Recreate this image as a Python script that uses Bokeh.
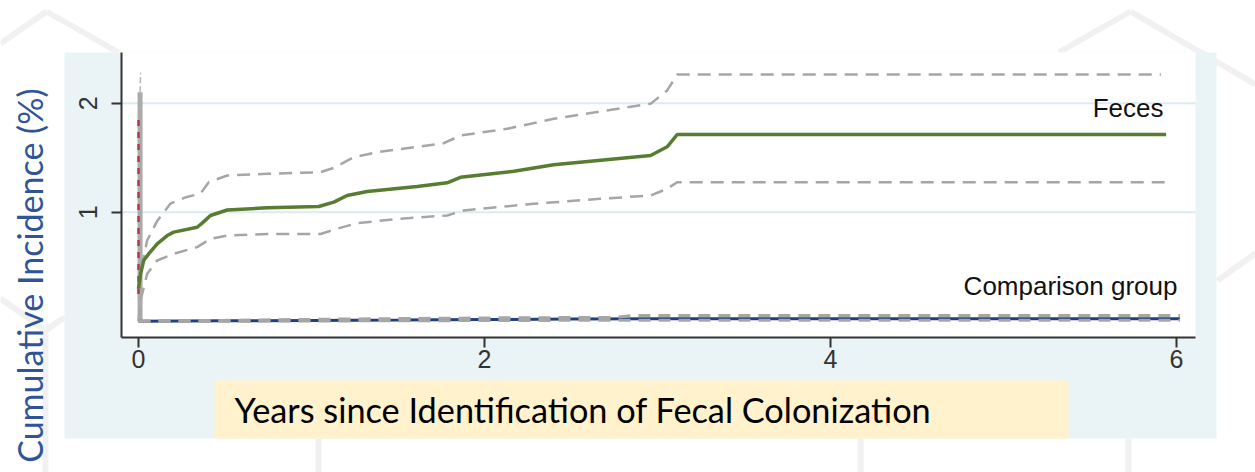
from bokeh.plotting import figure
from bokeh.models import Range1d, FixedTicker, Label
from bokeh.embed import file_html
from bokeh.resources import INLINE
import math

# ---------------- data ----------------
x_ticks = [0, 2, 4, 6]
y_ticks = [1, 2]

feces_t = [0.0, 0.012, 0.03, 0.06, 0.108, 0.166, 0.204, 0.339, 0.368, 0.416, 0.513, 0.744,
           1.042, 1.129, 1.206, 1.322, 1.611, 1.784, 1.861, 2.17, 2.40, 2.96, 3.056, 3.114, 5.94]
feces_y = [0.30, 0.435, 0.557, 0.62, 0.71, 0.786, 0.817, 0.862, 0.90, 0.97, 1.02, 1.04,
           1.052, 1.092, 1.153, 1.19, 1.236, 1.27, 1.32, 1.376, 1.435, 1.52, 1.60, 1.713, 1.713]

feces_hi_t = [0.0, 0.03, 0.05, 0.108, 0.185, 0.28, 0.358, 0.406, 0.513, 0.744, 1.052, 1.129,
              1.245, 1.38, 1.765, 1.861, 2.13, 2.40, 2.96, 3.056, 3.114, 5.91]
feces_hi_y = [0.30, 0.59, 0.74, 0.92, 1.08, 1.14, 1.17, 1.275, 1.337, 1.352, 1.367, 1.407,
              1.505, 1.55, 1.633, 1.704, 1.765, 1.857, 1.995, 2.117, 2.263, 2.263]

feces_lo_t = [0.0, 0.012, 0.05, 0.108, 0.204, 0.339, 0.416, 0.513, 0.744, 1.052, 1.148, 1.263,
              1.514, 1.784, 1.88, 2.285, 2.67, 2.96, 3.056, 3.114, 5.94]
feces_lo_y = [0.0, 0.19, 0.435, 0.557, 0.618, 0.68, 0.756, 0.786, 0.80, 0.80, 0.848, 0.90,
              0.94, 0.97, 1.016, 1.077, 1.123, 1.153, 1.215, 1.275, 1.275]

comp_t = [0.0, 0.5, 1.0, 1.5, 2.0, 2.5, 3.0, 6.02]
comp_y = [0.0, 0.003, 0.006, 0.010, 0.015, 0.020, 0.022, 0.022]
comp_hi_t = [0.0, 0.5, 1.2, 2.0, 2.75, 2.85, 6.02]
comp_hi_y = [0.002, 0.008, 0.020, 0.030, 0.035, 0.052, 0.052]
comp_lo_t = [0.0, 0.5, 1.0, 1.5, 2.0, 2.5, 6.02]
comp_lo_y = [0.0, 0.0, 0.002, 0.004, 0.006, 0.008, 0.008]

# early spike of a third (small) group at time zero
spike_t = [0.009, 0.009]
spike_y = [0.0, 2.10]
spike_mid_t = [0.0, 0.0]
spike_mid_y = [0.25, 1.89]
spike_hi_t = [0.009, 0.012]
spike_hi_y = [2.10, 2.28]

# ---------------- layout (pixels) ----------------
W, H = 1255, 472
PX0, PXU = 138.0, 173.0      # pixel of t=0, pixels per year
PY0, PYU = 320.7, 109.0      # pixel of 0 %, pixels per 1 %

def px2x(px):
    return (px - PX0) / PXU

def py2y(py):
    return (PY0 - py) / PYU

p = figure(width=W, height=H, output_backend="svg", toolbar_location=None, title=None,
           x_range=Range1d(px2x(0), px2x(W)), y_range=Range1d(py2y(H), py2y(0)),
           min_border=0, min_border_left=0, min_border_right=0,
           min_border_top=0, min_border_bottom=0)
p.outline_line_color = None
p.background_fill_color = "white"
p.border_fill_color = "white"
p.grid.visible = False

# faint background decorations (slide artwork)
deco = "#F1F1F1"
segs = [((0, 43), (46, 11)), ((46, 11), (118, 52)),
        ((1058, 52), (1130, 11)), ((1130, 11), (1255, 84)),
        ((1217, 280), (1255, 253)),
        ((0, 298), (45, 330)), ((45, 330), (64, 317)), ((45, 330), (45, 480)),
        ((318, 438), (318, 480)), ((860, 438), (860, 480)), ((1128, 438), (1128, 480))]
p.multi_line(xs=[[px2x(a[0]), px2x(b[0])] for a, b in segs],
             ys=[[py2y(a[1]), py2y(b[1])] for a, b in segs],
             line_color=deco, line_width=6)

# panel, plot area, axis-title box
def pquad(x0, y0, x1, y1, color):
    p.quad(left=[px2x(x0)], right=[px2x(x1)], top=[py2y(y0)], bottom=[py2y(y1)],
           fill_color=color, line_alpha=0)

AX_L, AX_R, AX_T, AX_B = 121, 1195, 52, 337
pquad(64, 52, 1216, 438, "#EAF3F5")
pquad(AX_L, AX_T, AX_R, AX_B, "#FFFFFF")
pquad(214, 380, 1068, 438, "#FFF2CC")

# horizontal grid
p.segment(x0=[px2x(AX_L)] * len(y_ticks), x1=[px2x(AX_R)] * len(y_ticks),
          y0=y_ticks, y1=y_ticks, line_color="#DDEBF0", line_width=2)

# axes (library axes, placed at the plot-area edges)
xa, ya = p.xaxis[0], p.yaxis[0]
xa.fixed_location = py2y(AX_B)
xa.bounds = (px2x(AX_L), px2x(AX_R))
ya.fixed_location = px2x(AX_L)
ya.bounds = (py2y(AX_B), py2y(AX_T))
for ax in (xa, ya):
    ax.axis_line_color = "#333333"
    ax.axis_line_width = 2
    ax.major_tick_line_color = "#333333"
    ax.major_tick_line_width = 2
    ax.major_tick_out = 10
    ax.major_tick_in = 0
    ax.minor_tick_line_color = None
    ax.major_label_text_font = "Liberation Sans"
    ax.major_label_text_font_size = "25px"
    ax.major_label_text_color = "#333333"
xa.ticker = FixedTicker(ticks=x_ticks)
ya.ticker = FixedTicker(ticks=y_ticks)
xa.major_label_standoff = 2
ya.major_label_standoff = 14
ya.major_label_orientation = "vertical"

ci_color = "#A6A6A6"

# spike at zero
p.line(spike_t, spike_y, line_color="#ABABAB", line_width=5)
p.line(spike_hi_t, spike_hi_y, line_color="#B5B5B5", line_width=1.5, line_dash="6 3")
p.line(spike_mid_t, spike_mid_y, line_color="#B23A48", line_width=2.5, line_dash="6 6")

# comparison group
p.line(comp_t, comp_y, line_color="#1F3F7F", line_width=3)
p.line(comp_hi_t, comp_hi_y, line_color=ci_color, line_width=3, line_dash="12 8")
p.line(comp_lo_t, comp_lo_y, line_color=ci_color, line_width=3, line_dash="12 8")

# feces group
p.line(feces_hi_t, feces_hi_y, line_color=ci_color, line_width=2.5, line_dash="13 8")
p.line(feces_lo_t, feces_lo_y, line_color=ci_color, line_width=2.5, line_dash="13 8")
p.line(feces_t, feces_y, line_color="#587D30", line_width=3.5)

# curve labels
p.add_layout(Label(x=px2x(1163), y=py2y(107), text="Feces", text_align="right",
                   text_baseline="alphabetic", text_font="Liberation Sans",
                   text_font_size="26px", text_color="#111111"))
p.add_layout(Label(x=px2x(1177), y=py2y(285.5), text="Comparison group", text_align="right",
                   text_baseline="alphabetic", text_font="Liberation Sans",
                   text_font_size="26px", text_color="#111111"))

# slide axis titles
p.add_layout(Label(x=px2x(234), y=py2y(409),
                   text="Years since Identification of Fecal Colonization",
                   text_align="left", text_baseline="alphabetic",
                   text_font="Lato", text_font_size="34.3px", text_color="#000000"))
p.add_layout(Label(x=px2x(29), y=py2y(88),
                   text="Cumulative Incidence (%)", angle=math.pi / 2,
                   text_align="right", text_baseline="alphabetic",
                   text_font="Lato", text_font_size="34px", text_color="#2F5597"))

open("out.html", "w").write(file_html(p, INLINE))
